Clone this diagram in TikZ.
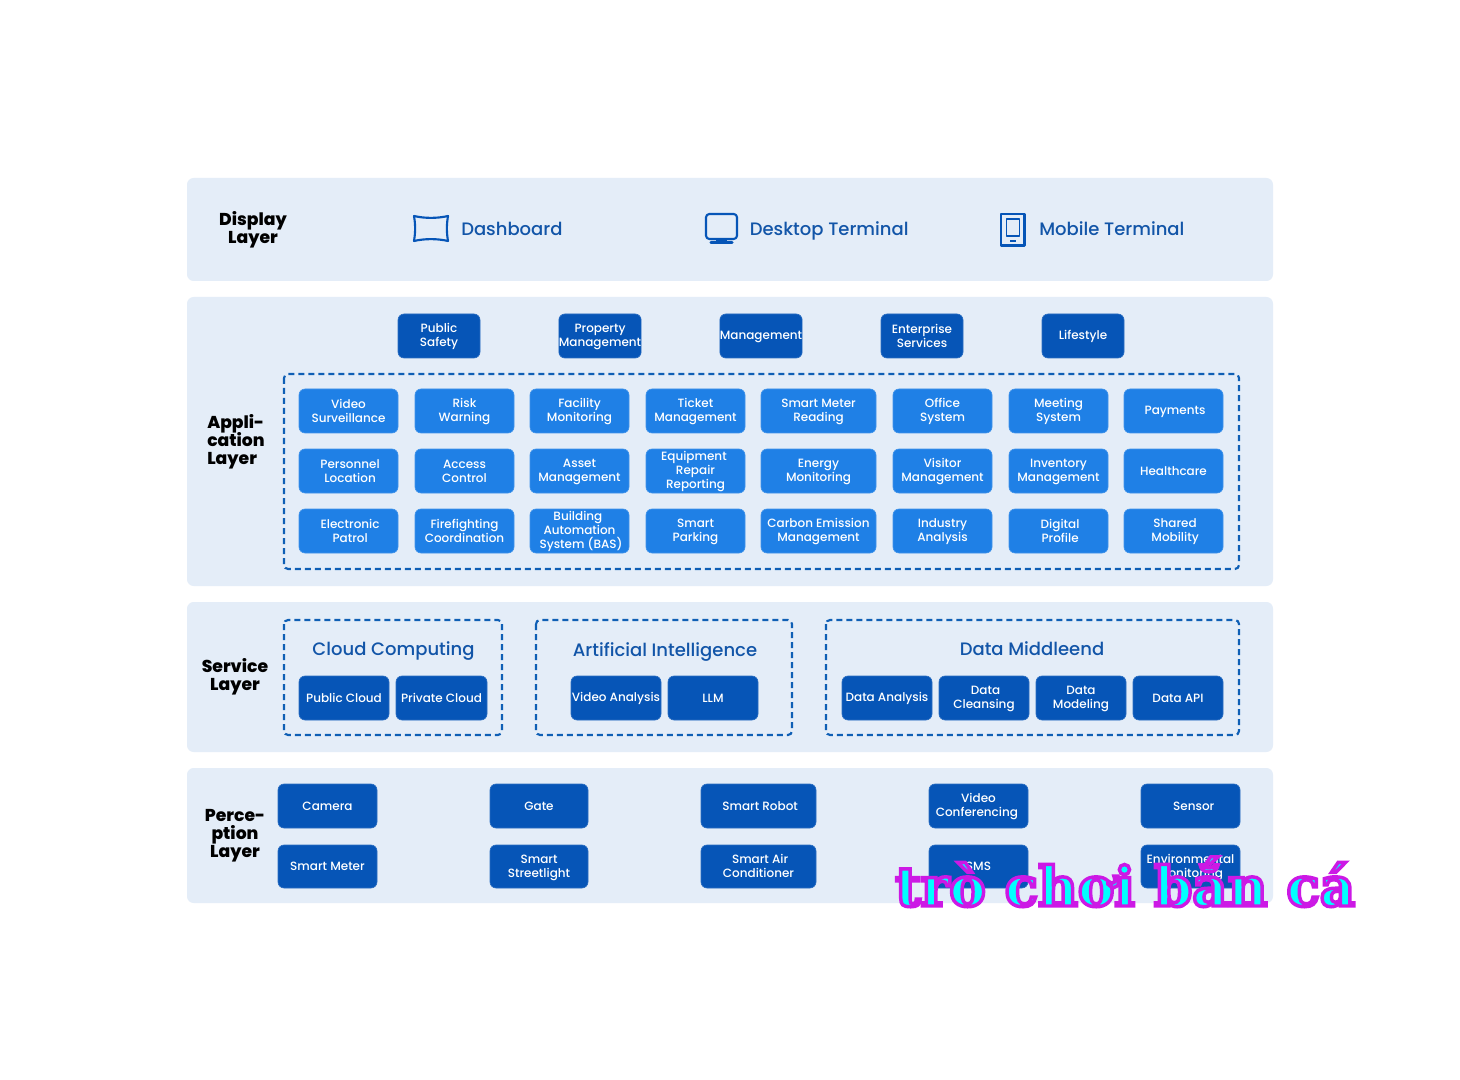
\documentclass[tikz,border=0pt]{standalone}
\usepackage{fontspec}
\setmainfont{Poppins}
\newfontfamily\medfont{Poppins Medium}
\newfontfamily\blackfont{Poppins ExtraBold}
\newfontfamily\stampfont{DejaVu Serif Bold}
\definecolor{panelc}{HTML}{E4EDF8}
\definecolor{darkc}{HTML}{0655B7}
\definecolor{lightc}{HTML}{1F80E6}
\definecolor{titlec}{HTML}{1255A8}
\definecolor{dashc}{HTML}{0F5FB5}
\newcommand{\ph}{\vphantom{Ag}}
\newcommand{\rs}{\hspace*{2.4pt}}
\newcommand{\ls}{\hspace*{2.4pt}}
\newcommand{\tfix}{\lineskiplimit=-20pt\relax}
\tikzset{
  x=0.75pt,y=-0.75pt,
  panel/.style={fill=panelc,draw=none,rounded corners=5pt},
  btntext/.style={text=white,align=center,inner sep=0pt,rounded corners=4.5pt,
    font=\medfont\fontsize{9}{10.5}\selectfont\tfix},
  darkbtn/.style={btntext,fill=darkc,draw=darkc!85!white,line width=0.5pt},
  lightbtn/.style={btntext,fill=lightc,draw=lightc!85!white,line width=0.5pt},
  dashbox/.style={draw=dashc,line width=1.6pt,dash pattern=on 4.5pt off 3pt,rounded corners=3pt},
  layertitle/.style={text=black,inner sep=0pt,font=\blackfont\fontsize{12.9}{13.5}\selectfont\tfix},
  sectitle/.style={text=titlec,inner sep=0pt,font=\medfont\fontsize{13.5}{15}\selectfont},
  icon/.style={draw=darkc,line width=1.6pt,line join=round}
}
\newcommand{\bx}[7]{\node[#1,minimum width={(#4-#3)*0.75pt},minimum height={(#6-#5)*0.75pt}] (#2) at ({(#3+#4)/2},{(#5+#6)/2}) {\rule{0pt}{8.2pt}#7\rule[-1.9pt]{0pt}{1.9pt}};}
\begin{document}
\begin{tikzpicture}
\useasboundingbox (0,0) rectangle (1460,1080);
\fill[white] (0,0) rectangle (1460,1080);
% panels
\draw[panel] (187,178) rectangle (1273,281);
\draw[panel] (187,297) rectangle (1273,586);
\draw[panel] (187,602) rectangle (1273,752);
\draw[panel] (187,768) rectangle (1273,903);
% layer titles
\node[layertitle,align=center] (tdisplay) at (253,230) {\ph Display\\Layer\ph};
\node[layertitle,align=left,anchor=west] (tapp) at (207,442) {\ph Appli-\\cation\\Layer\ph};
\node[layertitle,align=center] (tservice) at (235,677) {\ph Service\\Layer\ph};
\node[layertitle,align=center] (tperc) at (235,836) {\ph Perce-\\ption\\Layer\ph};
% display layer
\node[sectitle,anchor=west] (dash) at (461,231) {\ph Dashboard};
\node[sectitle,anchor=west] (desk) at (749.5,231) {\ph Desktop Terminal};
\node[sectitle,anchor=west] (mob) at (1039,231) {\ph Mobile Terminal};
\draw[icon] (414,216) .. controls (425,218.5) and (437,218.5) .. (448,216) .. controls (446.5,225) and (446.5,232) .. (448,241) .. controls (437,238.5) and (425,238.5) .. (414,241) .. controls (415.5,232) and (415.5,225) .. (414,216) -- cycle;
\draw[icon,rounded corners=2.5pt] (706,214) rectangle (737,239);
\fill[darkc] (716,239) rectangle (727,241);
\fill[darkc,rounded corners=1pt] (709.5,241) rectangle (733.5,244);
\draw[icon,line width=2pt] (1001,214) rectangle (1024.5,245.5);
\draw[icon,line width=1.3pt] (1006.5,219) rectangle (1019.5,236);
\fill[darkc] (1010,240) rectangle (1016,242);
% top buttons
\bx{darkbtn}{a1}{398}{480}{314}{358}{Public\\Safety}
\bx{darkbtn}{a2}{559}{641}{314}{358}{Property\\Management}
\bx{darkbtn}{a3}{720}{802}{314}{358}{Management}
\bx{darkbtn}{a4}{881}{963}{314}{358}{Enterprise\\Services}
\bx{darkbtn}{a5}{1042}{1124}{314}{358}{Lifestyle}
% application
\draw[dashbox] (284,374) rectangle (1239,569);
\bx{lightbtn}{r1c1}{299}{398}{389}{433}{Video\\Surveillance}
\bx{lightbtn}{r1c2}{415}{514}{389}{433}{Risk\\Warning}
\bx{lightbtn}{r1c3}{530}{629}{389}{433}{Facility\\Monitoring}
\bx{lightbtn}{r1c4}{646}{745}{389}{433}{Ticket\\Management}
\bx{lightbtn}{r1c5}{761}{876}{389}{433}{Smart Meter\\Reading}
\bx{lightbtn}{r1c6}{893}{992}{389}{433}{Office\\System}
\bx{lightbtn}{r1c7}{1009}{1108}{389}{433}{Meeting\\System}
\bx{lightbtn}{r1c8}{1124}{1223}{389}{433}{\rs Payments}
\bx{lightbtn}{r2c1}{299}{398}{449}{493}{\rs Personnel\\\rs Location}
\bx{lightbtn}{r2c2}{415}{514}{449}{493}{Access\\Control}
\bx{lightbtn}{r2c3}{530}{629}{449}{493}{Asset\\Management}
\bx{lightbtn}{r2c4}{646}{745}{449}{493}{Equipment\ls\\Repair\ls\\Reporting}
\bx{lightbtn}{r2c5}{761}{876}{449}{493}{Energy\\Monitoring}
\bx{lightbtn}{r2c6}{893}{992}{449}{493}{Visitor\\Management}
\bx{lightbtn}{r2c7}{1009}{1108}{449}{493}{Inventory\\Management}
\bx{lightbtn}{r2c8}{1124}{1223}{449}{493}{Healthcare}
\bx{lightbtn}{r3c1}{299}{398}{509}{553}{\rs Electronic\\\rs Patrol}
\bx{lightbtn}{r3c2}{415}{514}{509}{553}{Firefighting\\Coordination}
\bx{lightbtn}{r3c3}{530}{629}{509}{553}{Building\ls\\Automation\ls\\\rs System (BAS)}
\bx{lightbtn}{r3c4}{646}{745}{509}{553}{Smart\\Parking}
\bx{lightbtn}{r3c5}{761}{876}{509}{553}{Carbon Emission\\Management}
\bx{lightbtn}{r3c6}{893}{992}{509}{553}{Industry\\Analysis}
\bx{lightbtn}{r3c7}{1009}{1108}{509}{553}{\rs Digital\\\rs Profile}
\bx{lightbtn}{r3c8}{1124}{1223}{509}{553}{\rs Shared\\\rs Mobility}
% service
\draw[dashbox] (284,620) rectangle (502,735);
\draw[dashbox] (536,620) rectangle (792,735);
\draw[dashbox] (826,620) rectangle (1239,735);
\node[sectitle] (cloud) at (393.5,651.5) {\ph Cloud Computing\ph};
\node[sectitle] (ai) at (665,651.5) {\ph Artificial Intelligence\ph};
\node[sectitle] (mid) at (1032,651.5) {\ph Data Middleend\ph};
\bx{darkbtn}{s1}{299}{389}{676}{720}{Public Cloud}
\bx{darkbtn}{s2}{396}{487}{676}{720}{Private Cloud}
\bx{darkbtn}{s3}{571}{661}{676}{720}{Video Analysis}
\bx{darkbtn}{s4}{668}{758}{676}{720}{LLM}
\bx{darkbtn}{s5}{842}{932}{676}{720}{Data Analysis}
\bx{darkbtn}{s6}{939}{1029}{676}{720}{\rs Data\\Cleansing}
\bx{darkbtn}{s7}{1036}{1126}{676}{720}{Data\\Modeling}
\bx{darkbtn}{s8}{1133}{1223}{676}{720}{Data API}
% perception
\bx{darkbtn}{p1}{278}{377}{784}{828}{Camera}
\bx{darkbtn}{p2}{490}{588}{784}{828}{Gate}
\bx{darkbtn}{p3}{701}{816}{784}{828}{\rs Smart Robot}
\bx{darkbtn}{p4}{929}{1028}{784}{828}{Video\\Conferencing\ls}
\bx{darkbtn}{p5}{1141}{1240}{784}{828}{\rs\rs Sensor}
\bx{darkbtn}{q1}{278}{377}{845}{888}{Smart Meter}
\bx{darkbtn}{q2}{490}{588}{845}{888}{Smart\\Streetlight}
\bx{darkbtn}{q3}{701}{816}{845}{888}{\rs Smart Air\\Conditioner}
\bx{darkbtn}{q4}{929}{1028}{845}{888}{SMS}
\bx{darkbtn}{q5}{1141}{1240}{845}{888}{Environmental\\Monitoring}
% overlaid caption
\node[inner sep=0pt,anchor=base west] (stamp) at (895,906) {\stampfont\fontsize{41}{44}\selectfont\special{pdf:code q 2 Tr 2.6 w 0.8 0.1 0.9 RG 0 1 1 rg}trò chơi bắn cá\special{pdf:code 0 Tr Q}};
\end{tikzpicture}
\end{document}
